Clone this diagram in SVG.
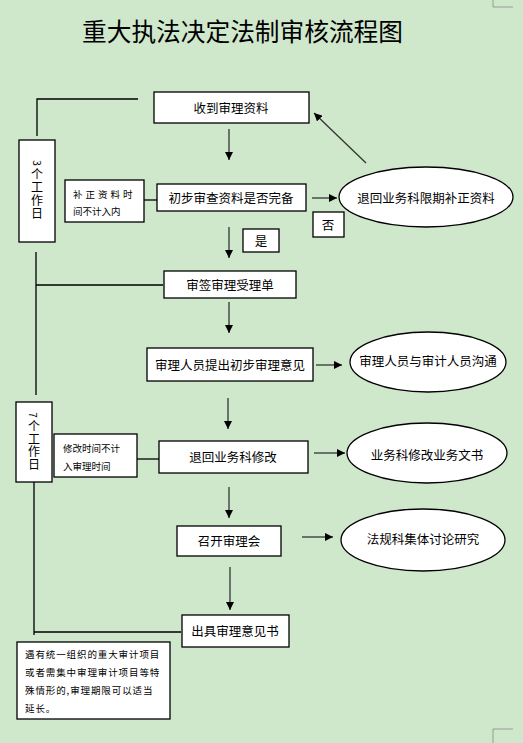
<svg xmlns="http://www.w3.org/2000/svg" width="523" height="743" viewBox="0 0 523 743">
<defs>
<marker id="ah" viewBox="0 0 10 10" refX="10" refY="5" markerWidth="8" markerHeight="8" markerUnits="userSpaceOnUse" orient="auto">
<path d="M0,0 L10,5 L0,10 z" fill="#000"/>
</marker>
<style>
text{font-family:"Noto Sans CJK SC","Liberation Sans",sans-serif;fill:#000}
.box{fill:#fff;stroke:#000;stroke-width:1.3}
.t{font-size:12.5px;text-anchor:middle;dominant-baseline:central}
.s{font-size:9.5px}
.n{font-size:10px;text-anchor:middle;dominant-baseline:central}
.v{font-size:12px;writing-mode:vertical-rl;text-anchor:start;dominant-baseline:central}
.ln{stroke:#000;stroke-width:1.3;fill:none}
.ar{stroke:#333;stroke-width:1.3;fill:none;marker-end:url(#ah)}
.cm{stroke:#999;stroke-width:1;fill:none}
</style>
</defs>
<rect width="523" height="743" fill="#cfe7cb"/>
<path class="cm" d="M493,0 V7 H513 M493,743 V729 H513"/>
<text x="242.5" y="30" font-size="24.7" text-anchor="middle" dominant-baseline="central">重大执法决定法制审核流程图</text>

<g id="connectors">
<path class="ln" d="M138,99 H37 V136"/>
<path class="ln" d="M36,252 V395 M36,285 H163"/>
<path class="ln" d="M34,482 V635 M34,632 H181"/>
<path class="ln" d="M144,200 H157"/>
<path class="ln" d="M137,459 H159"/>
<path class="ar" d="M229,129 V160"/>
<path class="ar" d="M312,198 H337"/>
<path class="ar" d="M366,163 L314,113"/>
<path class="ar" d="M229,227 V258"/>
<path class="ar" d="M229,302 V333"/>
<path class="ar" d="M316,365 H342"/>
<path class="ar" d="M228,398 V429"/>
<path class="ar" d="M314,453 H345"/>
<path class="ar" d="M229,487 V518"/>
<path class="ar" d="M302,537 H333"/>
<path class="ar" d="M230,567 V610"/>
</g>

<g id="n-receive"><rect class="box" x="154" y="92" width="155" height="31"/><text class="t" x="231" y="107">收到审理资料</text></g>
<g id="n-3days"><rect class="box" x="19" y="140" width="36" height="102"/>
<text class="n" transform="translate(37,163) rotate(90)">3</text>
<text class="v" x="37" y="168" letter-spacing="1">个工作日</text></g>
<g id="n-supp-note"><rect class="box" x="65" y="180" width="79" height="42"/><text class="s" x="73" y="194" dominant-baseline="central" letter-spacing="3">补正资料时</text><text class="s" x="73" y="211" dominant-baseline="central">间不计入内</text></g>
<g id="n-check"><rect class="box" x="157" y="184" width="149" height="27"/><text class="t" x="231" y="197">初步审查资料是否完备</text></g>
<g id="n-return"><ellipse class="box" cx="426" cy="197" rx="87" ry="30"/><text class="t" x="426" y="197">退回业务科限期补正资料</text></g>
<g id="n-no"><rect class="box" x="313" y="212" width="31" height="25"/><text class="t" x="328" y="224">否</text></g>
<g id="n-yes"><rect class="box" x="243" y="229" width="36" height="23"/><text class="t" x="261" y="240">是</text></g>
<g id="n-sign"><rect class="box" x="164" y="271" width="132" height="27"/><text class="t" x="230" y="284">审签审理受理单</text></g>
<g id="n-opinion"><rect class="box" x="147" y="348" width="166" height="33"/><text class="t" x="230" y="364">审理人员提出初步审理意见</text></g>
<g id="n-communicate"><ellipse class="box" cx="428" cy="362" rx="78" ry="30"/><text class="t" x="428" y="360">审理人员与审计人员沟通</text></g>
<g id="n-7days"><rect class="box" x="16" y="402" width="36" height="80"/>
<text class="n" transform="translate(33,415) rotate(90)">7</text>
<text class="v" x="34" y="420.5" letter-spacing="0.5">个工作日</text></g>
<g id="n-mod-note"><rect class="box" x="54" y="434" width="83" height="43"/><text class="s" x="63" y="448" dominant-baseline="central">修改时间不计</text><text class="s" x="63" y="466" dominant-baseline="central">入审理时间</text></g>
<g id="n-modify"><rect class="box" x="159" y="441" width="149" height="32"/><text class="t" x="233" y="456">退回业务科修改</text></g>
<g id="n-revise"><ellipse class="box" cx="427" cy="453" rx="80" ry="30"/><text class="t" x="427" y="454">业务科修改业务文书</text></g>
<g id="n-meeting"><rect class="box" x="177" y="526" width="104" height="30"/><text class="t" x="229" y="540">召开审理会</text></g>
<g id="n-discuss"><ellipse class="box" cx="423" cy="540" rx="82" ry="31"/><text class="t" x="423" y="538">法规科集体讨论研究</text></g>
<g id="n-issue"><rect class="box" x="182" y="615" width="107" height="32"/><text class="t" x="235" y="630">出具审理意见书</text></g>
<g id="n-ext-note"><rect class="box" x="17" y="642" width="153" height="77"/>
<text class="s" x="25" dominant-baseline="central" letter-spacing="0.9"><tspan x="25" y="654">遇有统一组织的重大审计项目</tspan><tspan x="25" y="672">或者需集中审理审计项目等特</tspan><tspan x="25" y="690">殊情形的,审理期限可以适当</tspan><tspan x="25" y="708">延长。</tspan></text></g>
</svg>
